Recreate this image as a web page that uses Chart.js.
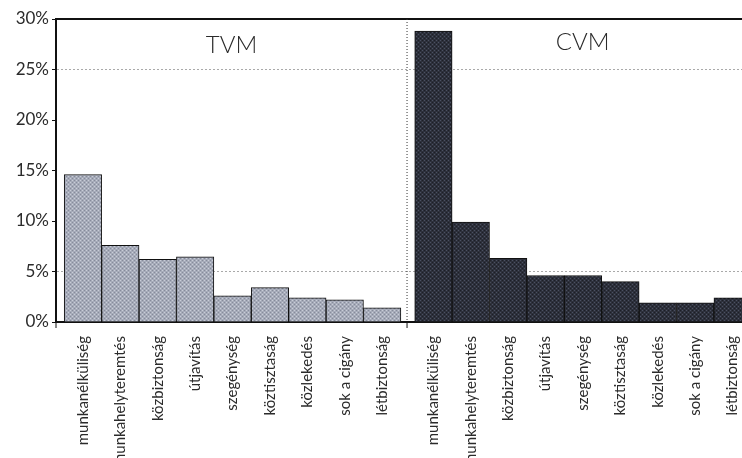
<!DOCTYPE html>
<html lang="hu">
<head>
<meta charset="utf-8">
<title>TVM / CVM</title>
<script src="https://cdn.jsdelivr.net/npm/chart.js@4/dist/chart.umd.min.js"></script>
<style>
  html, body { margin: 0; padding: 0; background: #fff; }
  #wrap { position: relative; width: 742px; height: 458px; overflow: hidden; }
</style>
</head>
<body>
<div id="wrap"><canvas id="chartProblemak"></canvas></div>
<script>
// Kategóriák (mindkét panelen ugyanazok)
const categories = ['munkanélküliség', 'munkahelyteremtés', 'közbiztonság', 'útjavítás',
    'szegénység', 'köztisztaság', 'közlekedés', 'sok a cigány', 'létbiztonság'];

// Panelek
const panels = ['TVM', 'CVM'];

// Említések aránya (%)
const tvmValues = [14.6, 7.6, 6.2, 6.45, 2.6, 3.4, 2.4, 2.2, 1.4];
const cvmValues = [28.8, 9.9, 6.3, 4.6, 4.6, 4.0, 1.9, 1.9, 2.4];

// Y tengely
const yTicks = [0, 5, 10, 15, 20, 25, 30];

document.addEventListener('DOMContentLoaded', () => {
    const C = {
        ink: '#111111',
        text: '#2b2b2b',
        light: ['#a6abb9', '#c9cdd8', '#868b9b'],
        dark: ['#2d303b', '#4b5162', '#1c1e26'],
        grid: '#a9a9a9'
    };

    // a második panel ennyivel kezdődik később (kategóriaszélességben)
    const GAP = 1.37;
    const DIVIDER = categories.length - 1 + GAP / 2 - 0.02;

    const tvmX = categories.map((_, i) => i);
    const cvmX = categories.map((_, i) => categories.length - 1 + GAP + i);
    const tickPos = [...tvmX, ...cvmX];
    const tickLabels = [...categories, ...categories];

    // raszteres kitöltés, mint a nyomtatott ábrán
    const halftone = ([base, hi, lo]) => {
        const c = document.createElement('canvas');
        c.width = c.height = 4;
        const g = c.getContext('2d');
        g.fillStyle = base;
        g.fillRect(0, 0, 4, 4);
        g.fillStyle = hi;
        g.fillRect(0, 0, 1, 1);
        g.fillRect(2, 2, 1, 1);
        g.fillStyle = lo;
        g.fillRect(2, 0, 1, 1);
        g.fillRect(0, 2, 1, 1);
        return g.createPattern(c, 'repeat');
    };

    Chart.defaults.font.family = 'Lato, "Open Sans", sans-serif';
    Chart.defaults.color = C.text;

    // Keret felül, panelválasztó, panelcímek
    const frame = {
        id: 'frame',
        afterDatasetsDraw(chart) {
            const {ctx, chartArea: a, scales: {x}} = chart;
            const xd = x.getPixelForValue(DIVIDER);
            ctx.save();
            ctx.strokeStyle = C.ink;
            ctx.lineWidth = 2;
            ctx.beginPath();
            ctx.moveTo(a.left - 1, a.top);
            ctx.lineTo(a.right, a.top);
            ctx.stroke();

            ctx.lineWidth = 1;
            ctx.strokeStyle = '#333';
            ctx.setLineDash([1, 2]);
            ctx.beginPath();
            ctx.moveTo(xd, a.top);
            ctx.lineTo(xd, a.bottom);
            ctx.stroke();
            ctx.setLineDash([]);

            ctx.strokeStyle = C.ink;
            ctx.beginPath();
            ctx.moveTo(xd, a.bottom);
            ctx.lineTo(xd, a.bottom + 6);
            ctx.moveTo(a.left, a.bottom);
            ctx.lineTo(a.left, a.bottom + 6);
            ctx.stroke();

            const w = xd - a.left;
            ctx.fillStyle = C.text;
            ctx.font = '300 24px Lato, sans-serif';
            ctx.textAlign = 'center';
            ctx.textBaseline = 'middle';
            ctx.fillText(panels[0], a.left + w / 2, a.top + 26);
            ctx.fillText(panels[1], xd + w / 2, a.top + 23);
            ctx.restore();
        }
    };

    const bars = (values, xs, color, label) => ({
        label,
        data: values.map((v, i) => ({x: xs[i], y: v})),
        backgroundColor: halftone(color),
        borderColor: C.ink,
        borderWidth: 1,
        grouped: false,
        categoryPercentage: 1,
        barPercentage: 1
    });

    new Chart(document.getElementById('chartProblemak'), {
        type: 'bar',
        data: {
            datasets: [
                bars(tvmValues, tvmX, C.light, panels[0]),
                bars(cvmValues, cvmX, C.dark, panels[1])
            ]
        },
        options: {
            responsive: true,
            maintainAspectRatio: false,
            animation: false,
            layout: {padding: {top: 19, right: 0, left: 0, bottom: 0}},
            plugins: {legend: {display: false}, tooltip: {enabled: false}},
            scales: {
                x: {
                    type: 'linear',
                    offset: false,
                    min: -0.72,
                    max: 17.62,
                    afterBuildTicks: s => { s.ticks = tickPos.map(v => ({value: v})); },
                    afterFit: s => {
                        s.height = 136;
                        s.paddingLeft = 0;
                        s.paddingRight = 0;
                    },
                    grid: {display: false},
                    border: {display: true, color: C.ink, width: 2},
                    ticks: {
                        autoSkip: false,
                        minRotation: 90,
                        maxRotation: 90,
                        padding: 6,
                        color: C.text,
                        font: {size: 15},
                        callback: (v, i) => tickLabels[i]
                    }
                },
                y: {
                    min: 0,
                    max: 30,
                    afterBuildTicks: s => { s.ticks = yTicks.map(v => ({value: v})); },
                    afterFit: s => { s.width = 56; },
                    grid: {
                        color: c => (c.tick && (c.tick.value === 25 || c.tick.value === 5)) ? C.grid : 'rgba(0,0,0,0)',
                        tickColor: C.ink,
                        tickLength: 4,
                        tickBorderDash: []
                    },
                    border: {display: true, color: C.ink, width: 2, dash: [2, 2]},
                    ticks: {
                        padding: 3,
                        color: C.text,
                        font: {size: 17},
                        callback: v => v + '%'
                    }
                }
            }
        },
        plugins: [frame]
    });
});
</script>
</body>
</html>
